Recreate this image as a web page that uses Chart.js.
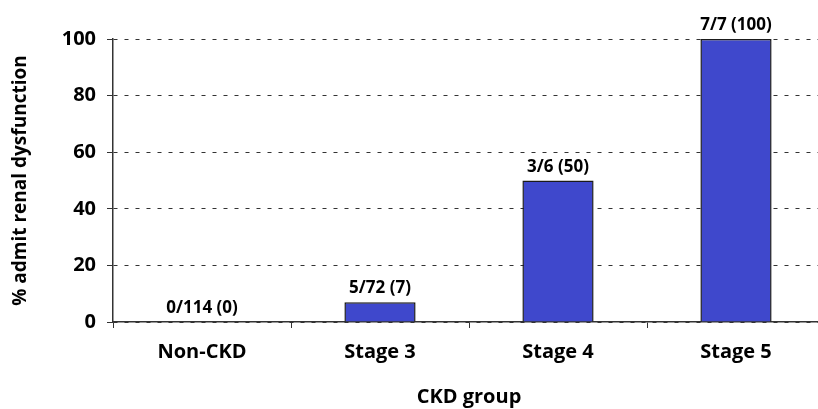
<!DOCTYPE html>
<html>
<head>
<meta charset="utf-8">
<script src="https://cdn.jsdelivr.net/npm/chart.js@4"></script>
<style>
  html, body { margin: 0; padding: 0; background: #fff; overflow: hidden; }
  #wrap { width: 830px; height: 409px; }
</style>
</head>
<body>
<div id="wrap"><canvas id="ckdChart"></canvas></div>
<script>
// CKD group data
const categories = ['Non-CKD', 'Stage 3', 'Stage 4', 'Stage 5'];
const percentValues = [0, 7, 50, 100];
const barLabels = ['0/114 (0)', '5/72 (7)', '3/6 (50)', '7/7 (100)'];
const yTicks = [0, 20, 40, 60, 80, 100];

const fontFamily = '"Open Sans", Lato, sans-serif';
const axisColor = '#333';

// draws the n/N (%) text above each bar
const barLabelPlugin = {
  id: 'barLabels',
  afterDatasetsDraw(chart) {
    const ctx = chart.ctx;
    const meta = chart.getDatasetMeta(0);
    ctx.save();
    ctx.font = 'bold 17px ' + fontFamily;
    ctx.fillStyle = '#000';
    ctx.textAlign = 'center';
    ctx.textBaseline = 'alphabetic';
    meta.data.forEach((bar, i) => {
      ctx.fillText(barLabels[i], bar.x, bar.y - 9);
    });
    ctx.restore();
  }
};

new Chart(document.getElementById('ckdChart'), {
  type: 'bar',
  data: {
    labels: categories,
    datasets: [{
      data: percentValues,
      backgroundColor: '#3F48CC',
      borderColor: '#1a1a1a',
      borderWidth: 1.5,
      barPercentage: 0.4,
      categoryPercentage: 1
    }]
  },
  options: {
    responsive: true,
    maintainAspectRatio: false,
    animation: false,
    layout: { padding: { top: 39, right: 5, bottom: 0, left: 0 } },
    plugins: {
      legend: { display: false },
      tooltip: { enabled: false }
    },
    scales: {
      x: {
        grid: {
          drawOnChartArea: false,
          drawTicks: true,
          tickLength: 6,
          color: axisColor,
          offset: true
        },
        border: { color: axisColor, width: 1.5 },
        ticks: {
          color: '#000',
          padding: 12,
          font: { family: fontFamily, size: 20, weight: 'bold' }
        },
        title: {
          display: true,
          text: 'CKD group',
          color: '#000',
          padding: { top: 0, bottom: 0 },
          font: { family: fontFamily, size: 20, weight: 'bold' }
        },
        afterFit(scale) { scale.height = 87; }
      },
      y: {
        min: 0,
        max: 100,
        afterBuildTicks(scale) {
          scale.ticks = yTicks.map(v => ({ value: v }));
        },
        grid: {
          color: axisColor,
          lineWidth: 1,
          tickLength: 6,
          tickBorderDash: [],
          tickColor: axisColor
        },
        border: { color: axisColor, width: 1.5, dash: [4, 7] },
        ticks: {
          color: '#000',
          padding: 11,
          font: { family: fontFamily, size: 20, weight: 'bold' }
        },
        title: {
          display: true,
          text: '% admit renal dysfunction',
          color: '#000',
          padding: { top: 9, bottom: 0 },
          font: { family: fontFamily, size: 19, weight: 'bold' }
        },
        afterFit(scale) { scale.width = 113; }
      }
    }
  },
  plugins: [barLabelPlugin]
});
</script>
</body>
</html>
